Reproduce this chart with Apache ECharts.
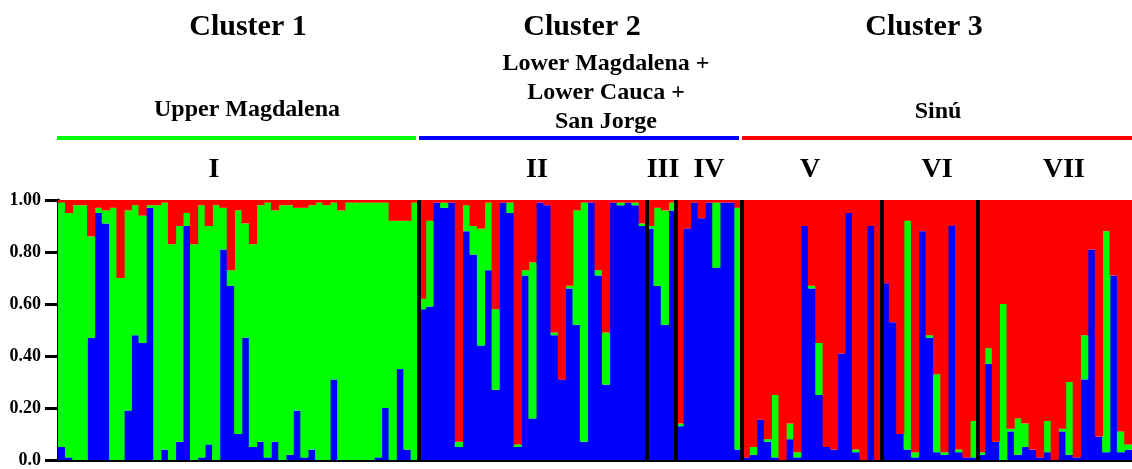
<!DOCTYPE html>
<html>
<head>
<meta charset="utf-8">
<script src="https://cdn.jsdelivr.net/npm/echarts@6/dist/echarts.min.js"></script>
<style>
html,body{margin:0;padding:0;background:#fff;}
#chart{width:1132px;height:469px;}
</style>
</head>
<body>
<div id="chart"></div>
<script>
// Group (population) names and number of individuals in each
const groupNames = ['I','II','III','IV','V','VI','VII'];
const groupSizes = [49,31,4,9,19,13,21];

// Ancestry proportions per individual (stacked: blue bottom, green middle, red top)
const blueQ = [
 // I
 0.05,0.01,0.00,0.00,0.47,0.95,0.91,0.00,0.00,0.19,0.48,0.45,0.97,0.00,0.04,0.00,0.07,0.90,0.00,0.01,
 0.06,0.00,0.81,0.67,0.10,0.47,0.05,0.07,0.01,0.07,0.00,0.02,0.19,0.01,0.04,0.00,0.00,0.31,0.00,0.00,
 0.00,0.00,0.00,0.01,0.20,0.00,0.35,0.04,0.00,
 // II
 0.58,0.59,0.99,0.97,0.99,0.05,0.88,0.79,0.44,0.73,0.27,0.99,0.95,0.05,0.71,0.16,0.99,0.98,0.48,0.31,
 0.66,0.52,0.07,0.99,0.71,0.29,0.99,0.98,0.99,0.98,0.90,
 // III
 0.89,0.67,0.52,0.96,
 // IV
 0.13,0.89,0.99,0.93,0.99,0.74,0.99,0.99,0.04,
 // V
 0.01,0.02,0.155,0.07,0.01,0.00,0.08,0.01,0.90,0.66,0.25,0.05,0.04,0.41,0.95,0.03,0.00,0.90,0.00,
 // VI
 0.68,0.53,0.10,0.04,0.01,0.88,0.47,0.03,0.02,0.90,0.03,0.01,0.01,
 // VII
 0.02,0.37,0.07,0.00,0.11,0.02,0.05,0.04,0.01,0.03,0.00,0.11,0.02,0.01,0.31,0.81,0.09,0.03,0.71,0.03,0.04
];
const greenQ = [
 // I
 0.94,0.94,0.98,0.98,0.39,0.02,0.05,0.97,0.70,0.77,0.50,0.49,0.01,0.98,0.95,0.83,0.83,0.05,0.83,0.97,
 0.84,0.98,0.16,0.06,0.86,0.44,0.78,0.91,0.98,0.89,0.98,0.96,0.78,0.96,0.94,0.99,0.98,0.68,0.96,0.99,
 0.99,0.99,0.99,0.98,0.79,0.92,0.57,0.88,0.99,
 // II
 0.04,0.33,0.00,0.02,0.00,0.02,0.10,0.11,0.45,0.26,0.31,0.00,0.04,0.01,0.02,0.60,0.00,0.00,0.01,0.00,
 0.01,0.44,0.92,0.00,0.02,0.20,0.00,0.01,0.00,0.01,0.01,
 // III
 0.01,0.30,0.44,0.03,
 // IV
 0.01,0.00,0.00,0.00,0.00,0.25,0.00,0.00,0.93,
 // V
 0.00,0.03,0.00,0.01,0.24,0.00,0.06,0.02,0.00,0.01,0.20,0.00,0.00,0.00,0.00,0.01,0.00,0.00,0.00,
 // VI
 0.00,0.00,0.00,0.88,0.02,0.00,0.01,0.30,0.01,0.00,0.01,0.00,0.14,
 // VII
 0.01,0.06,0.00,0.60,0.01,0.14,0.09,0.00,0.00,0.12,0.00,0.01,0.28,0.00,0.17,0.00,0.00,0.85,0.00,0.08,0.02
];
const redQ = [
 // I
 0.01,0.05,0.02,0.02,0.14,0.03,0.04,0.03,0.30,0.04,0.02,0.06,0.02,0.02,0.01,0.17,0.10,0.05,0.17,0.02,
 0.10,0.02,0.03,0.27,0.04,0.09,0.17,0.02,0.01,0.04,0.02,0.02,0.03,0.03,0.02,0.01,0.02,0.01,0.04,0.01,
 0.01,0.01,0.01,0.01,0.01,0.08,0.08,0.08,0.01,
 // II
 0.38,0.08,0.01,0.01,0.01,0.93,0.02,0.10,0.11,0.01,0.42,0.01,0.01,0.94,0.27,0.24,0.01,0.02,0.51,0.69,
 0.33,0.04,0.01,0.01,0.27,0.51,0.01,0.01,0.01,0.01,0.09,
 // III
 0.10,0.03,0.04,0.01,
 // IV
 0.86,0.11,0.01,0.07,0.01,0.01,0.01,0.01,0.03,
 // V
 0.99,0.95,0.845,0.92,0.75,1.00,0.86,0.97,0.10,0.33,0.55,0.95,0.96,0.59,0.05,0.96,1.00,0.10,1.00,
 // VI
 0.32,0.47,0.90,0.08,0.97,0.12,0.52,0.67,0.97,0.10,0.96,0.99,0.85,
 // VII
 0.97,0.57,0.93,0.40,0.88,0.84,0.86,0.96,0.99,0.85,1.00,0.88,0.70,0.99,0.52,0.19,0.91,0.12,0.29,0.89,0.94
];

const yTicks = ['0.0','0.20','0.40','0.60','0.80','1.00'];
const clusterTitles = ['Cluster 1','Cluster 2','Cluster 3'];
const regionLabels = ['Upper Magdalena','Lower Magdalena +\nLower Cauca +\nSan Jorge','Sinú'];

// individual categories
const individuals = blueQ.map((_, i) => String(i + 1));
const nInd = individuals.length;
// boundaries between populations
const boundaries = [];
let acc = 0;
for (let k = 0; k < groupSizes.length - 1; k++) { acc += groupSizes[k]; boundaries.push(acc); }

const serif = '"Liberation Serif","DejaVu Serif",serif';
function txt(text, x, y, size) {
  return { type: 'text', x: x, y: y, z: 10,
    style: { text: text, font: 'bold ' + size + 'px ' + serif, fill: '#000',
      textAlign: 'center', textVerticalAlign: 'middle', lineHeight: 29 } };
}
function hline(x1, x2, y, color) {
  return { type: 'line', z: 10, shape: { x1: x1, y1: y, x2: x2, y2: y },
    style: { stroke: color, lineWidth: 4 } };
}
function barSeries(name, data, color) {
  // slightly wider than the category band so neighbouring bars overlap (no seams)
  return { type: 'bar', name: name, stack: 'q', data: data, barWidth: 8.2,
    itemStyle: { color: color } };
}

const chart = echarts.init(document.getElementById('chart'), null, { renderer: 'canvas' });
chart.setOption({
  animation: false,
  backgroundColor: '#fff',
  grid: { left: 58, right: 0, top: 200, bottom: 2 },
  xAxis: [
    { type: 'category', data: individuals, boundaryGap: true,
      axisLine: { show: true, lineStyle: { color: '#000', width: 3 } },
      axisTick: { show: false }, axisLabel: { show: false }, splitLine: { show: false } },
    { type: 'value', min: 0, max: nInd, show: false }
  ],
  yAxis: {
    type: 'value', min: 0, max: 1, interval: 0.2,
    axisLine: { show: true, lineStyle: { color: '#000', width: 3 } },
    axisTick: { show: true, length: 13, lineStyle: { color: '#000', width: 3 } },
    axisLabel: { margin: 17, color: '#000', fontFamily: serif, fontWeight: 'bold', fontSize: 18,
      formatter: function (v) { return yTicks[Math.round(v / 0.2)]; } },
    splitLine: { show: false }
  },
  series: [
    barSeries('blue', blueQ, '#0000ff'),
    barSeries('green', greenQ, '#00ff00'),
    barSeries('red', redQ, '#ff0000'),
    { type: 'scatter', xAxisIndex: 1, data: [[0, 0]], symbolSize: 0, silent: true, z: 5,
      markLine: { silent: true, symbol: 'none', label: { show: false },
        lineStyle: { color: '#000', width: 4, type: 'solid' },
        data: boundaries.map(b => ({ xAxis: b })) } }
  ],
  graphic: [
    txt(clusterTitles[0], 248, 27, 30),
    txt(clusterTitles[1], 582, 27, 30),
    txt(clusterTitles[2], 924, 27, 30),
    txt(regionLabels[0], 247, 110, 24),
    txt(regionLabels[1], 606, 93, 24),
    txt(regionLabels[2], 938, 112, 24),
    hline(57, 416, 138, '#00ff00'),
    hline(419, 739, 138, '#0000ff'),
    hline(742, 1132, 138, '#ff0000'),
    txt(groupNames[0], 214, 170, 28),
    txt(groupNames[1], 537, 170, 28),
    txt(groupNames[2], 663, 170, 28),
    txt(groupNames[3], 709, 170, 28),
    txt(groupNames[4], 810, 170, 28),
    txt(groupNames[5], 937, 170, 28),
    txt(groupNames[6], 1064, 170, 28)
  ]
});
</script>
</body>
</html>
